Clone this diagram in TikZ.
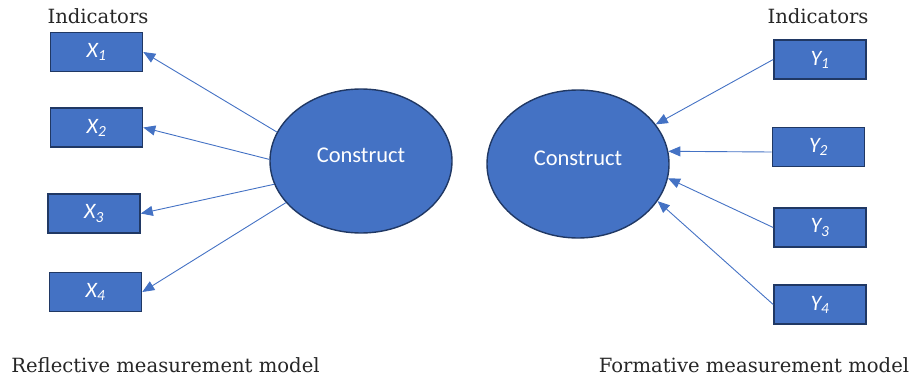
\documentclass[tikz,border=0pt]{standalone}
\usepackage{fontspec}
\setmainfont{DejaVu Serif}
\newfontfamily\calib{Carlito}
\usetikzlibrary{shapes.geometric,arrows.meta}
\definecolor{accent}{RGB}{68,114,196}
\definecolor{edgeblue}{RGB}{32,56,100}
\begin{document}
\begin{tikzpicture}[x=1pt,y=-1pt,
  indbox/.style={draw=edgeblue,line width=1.6pt,fill=accent,minimum width=92pt,minimum height=39pt,
    inner sep=0pt,text=white,font=\calib\itshape\fontsize{22}{22}\selectfont},
  latent/.style={ellipse,draw=edgeblue,line width=1.4pt,fill=accent,inner sep=0pt,
    text=white,font=\calib\fontsize{22.5}{22.5}\selectfont,text height=14.5pt,text depth=11pt},
  caption/.style={anchor=base,inner sep=0pt,font=\fontsize{19.6}{19.6}\selectfont,text=black!85},
  link/.style={draw=accent,line width=0.9pt,-{Triangle[length=12pt,width=10pt]}}]
\useasboundingbox (0,0) rectangle (909,377);

% reflective model
\node[caption] (indL) at (98,24) {Indicators};
\node[indbox] (x1) at (96.5,52) {X\textsubscript{1}};
\node[indbox] (x2) at (96.5,127.5) {X\textsubscript{2}};
\node[indbox] (x3) at (94,213.5) {X\textsubscript{3}};
\node[indbox] (x4) at (95.5,292) {X\textsubscript{4}};
\node[latent,minimum width=182pt,minimum height=144pt] (cL) at (361,161) {Construct};
\draw[link] (cL.161) -- (x1.east);
\draw[link] (cL.179) -- (x2.east);
\draw[link] (cL.195) -- (x3.east);
\draw[link] (cL.209) -- (x4.east);
\node[caption] (capL) at (165.5,372) {Reflective measurement model};

% formative model
\node[caption] (indR) at (818,24) {Indicators};
\node[indbox] (y1) at (820,59.5) {Y\textsubscript{1}};
\node[indbox] (y2) at (818.5,147) {Y\textsubscript{2}};
\node[indbox] (y3) at (820,227.5) {Y\textsubscript{3}};
\node[indbox] (y4) at (820,304.5) {Y\textsubscript{4}};
\node[latent,minimum width=182pt,minimum height=148pt] (cR) at (578,164) {Construct};
\draw[link] (y1.west) -- (cR.27);
\draw[link] ([yshift=-5pt]y2.west) -- (cR.8);
\draw[link] (y3.west) -- (cR.351);
\draw[link] (y4.west) -- (cR.335);
\node[caption] (capR) at (754,372) {Formative measurement model};
\end{tikzpicture}
\end{document}
